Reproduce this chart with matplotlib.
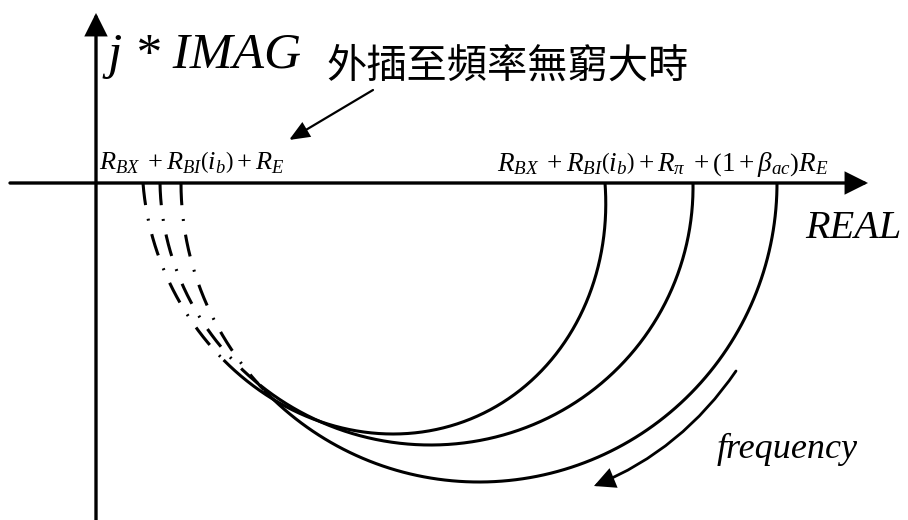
import numpy as np
import matplotlib
matplotlib.use('Agg')
import matplotlib.pyplot as plt
from matplotlib.patches import FancyArrowPatch

plt.rcParams['mathtext.fontset'] = 'custom'
plt.rcParams['mathtext.rm'] = 'Liberation Serif'
plt.rcParams['mathtext.it'] = 'Liberation Serif:italic'
plt.rcParams['lines.scale_dashes'] = False

# impedance loci: left / right real-axis crossings, depth below axis, skew
left_x = [143, 160, 181]
right_x = [605, 693, 777]
depth = [251, 262, 299]
skew = [19, 4, 0]
# where the extrapolated (dash-dot) part turns into the measured part
split_y = [360, 385, 390]

origin = (96, 183)
x_end = 868
y_top = 13

label_low = r'$R_{BX}\;+R_{BI}\left(i_b\right)+R_E$'
label_high = (r'$R_{BX}\;+R_{BI}\left(i_b\right)+R_{\pi}\;'
              r'+\left(1+\beta_{ac}\right)R_E$')
note = '外插至頻率無窮大時'

fig = plt.figure(figsize=(9.08, 5.2), dpi=100)
ax = fig.add_axes([0, 0, 1, 1])
ax.set_xlim(0, 908)
ax.set_ylim(520, 0)
ax.axis('off')


def arrow(ax, start, end, lw, hl, hw, rad=0.0):
    style = '-|>,head_length={},head_width={}'.format(hl, hw)
    p = FancyArrowPatch(start, end, arrowstyle=style, mutation_scale=1,
                        lw=lw, color='k', shrinkA=0, shrinkB=0,
                        connectionstyle='arc3,rad={}'.format(rad),
                        joinstyle='miter')
    ax.add_patch(p)


# axes
arrow(ax, (10, origin[1]), (x_end, origin[1]), 2.4, 13, 6.5)
arrow(ax, (origin[0], 520), (origin[0], y_top), 2.4, 13, 6.5)

dashdot = (0, (16, 10, 1.4, 10))
for xl, xr, d, s, ys in zip(left_x, right_x, depth, skew, split_y):
    t_split = np.arcsin((ys - origin[1]) / d)
    for t0, t1, ls in [(0, t_split, dashdot), (t_split, np.pi, '-')]:
        t = np.linspace(t0, t1, 300)
        x = xl + (xr - xl) * (1 - np.cos(t)) / 2 + s * np.sin(t)
        y = origin[1] + d * np.sin(t)
        ax.plot(x, y, color='k', lw=2.2, linestyle=ls,
                solid_capstyle='butt', dash_capstyle='butt')

# frequency direction
arrow(ax, (736, 371), (594, 486), 2.0, 12, 6, rad=-0.15)
# pointer from the note to the high-frequency intercept
arrow(ax, (373, 90), (289, 140), 1.6, 12, 5)

ax.text(108, 68, 'j * IMAG', family='Liberation Serif', style='italic',
        fontsize=37, va='baseline', ha='left')
ax.text(326, 78, note, family=['Noto Sans CJK TC', 'DejaVu Sans'],
        fontsize=29, va='baseline', ha='left')
ax.text(99, 169, label_low, fontsize=19, va='baseline', ha='left')
ax.text(497, 171, label_high, fontsize=19.5, va='baseline', ha='left')
ax.text(805, 238, 'REAL', family='Liberation Serif', style='italic',
        fontsize=29, va='baseline', ha='left')
ax.text(717, 458, 'frequency', family='Liberation Serif', style='italic',
        fontsize=26, va='baseline', ha='left')

fig.savefig('out.png', dpi=100)
